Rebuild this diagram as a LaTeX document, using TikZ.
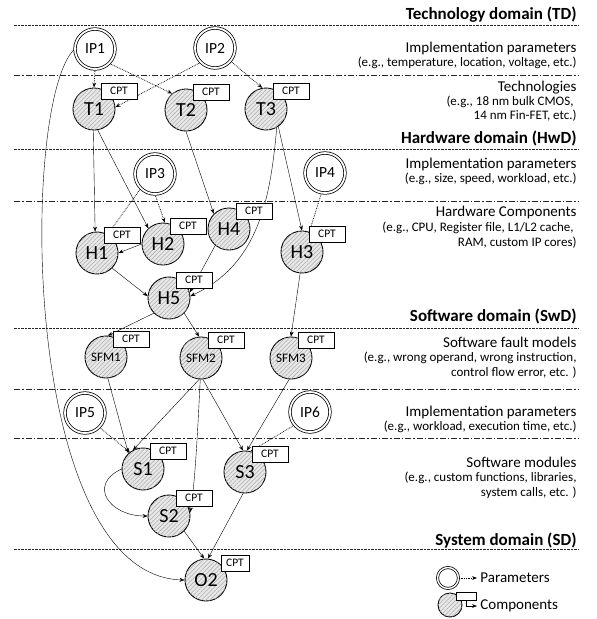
\documentclass[tikz,border=0pt]{standalone}
\usepackage{fontspec}
\setmainfont{Carlito}
\usetikzlibrary{arrows.meta,patterns.meta,backgrounds}

\newcommand{\fsz}[1]{\fontsize{#1}{#1}\selectfont}

\begin{document}
\begin{tikzpicture}[x=1pt, y=-1pt, line width=0.9pt,
  param/.style={draw, circle, double, double distance=1.8pt, line width=0.75pt, fill=white,
                minimum size=40pt, inner sep=0pt, font=\fsz{15.5}},
  comp/.style={draw, circle, line width=0.9pt, minimum size=42pt, inner sep=0pt, fill=gray!18,
               postaction={pattern={Lines[angle=45, distance=3pt, line width=0.55pt]}},
               pattern color=gray!65, font=\fsz{20}},
  sfm/.style={comp, font=\fsz{13}},
  cpt/.style={draw, fill=white, line width=0.9pt, minimum width=36pt, minimum height=16pt,
              inner sep=0pt, font=\fsz{11.5}},
  head/.style={anchor=base east, inner sep=0pt, font=\bfseries\fsz{17}},
  desc/.style={anchor=base east, inner sep=0pt, font=\fsz{15}},
  eg/.style={anchor=base east, inner sep=0pt, font=\fsz{13}},
  sep/.style={line width=0.8pt, black!85, dash pattern=on 2.5pt off 1pt},
  subsep/.style={line width=0.8pt, black!85, dash pattern=on 6pt off 2pt on 1.5pt off 2pt},
  arr/.style={-{Stealth[length=5pt, width=3.8pt]}},
  dotarr/.style={arr, line width=0.75pt, densely dotted}]
\useasboundingbox (0,0) rectangle (597,619);

\foreach \y/\t in {19/{Technology domain (TD)}, 143/{Hardware domain (HwD)},
                   321/{Software domain (SwD)}, 545/{System domain (SD)}}
  \node[head] (hd\y) at (577,\y) {\t};
\foreach \y/\t in {52/{Implementation parameters}, 91/{Technologies},
                   168/{Implementation parameters}, 216/{Hardware Components},
                   347/{Software fault models}, 416/{Implementation parameters},
                   467/{Software modules}}
  \node[desc] (ds\y) at (577,\y) {\t};
\foreach \y/\t in {66/{(e.g., temperature, location, voltage, etc.)},
                   105/{(e.g., 18 nm bulk CMOS,\kern3pt}, 119/{14 nm Fin-FET, etc.)},
                   182/{(e.g., size, speed, workload, etc.)},
                   231/{(e.g., CPU, Register file, L1/L2 cache,\kern3pt}, 246/{RAM, custom IP cores)},
                   361/{(e.g., wrong operand, wrong instruction,}, 376/{control flow error, etc. )},
                   430/{(e.g., workload, execution time, etc.)},
                   481/{(e.g., custom functions, libraries,}, 496/{system calls, etc. )}}
  \node[eg] (eg\y) at (577,\y) {\t};

\node[param] (IP1) at (95,49) {IP1};
\node[param] (IP2) at (215,48) {IP2};
\node[param] (IP3) at (155,174) {IP3};
\node[param] (IP4) at (325,173) {IP4};
\node[param] (IP5) at (85,413) {IP5};
\node[param] (IP6) at (310,412) {IP6};

\node[comp] (T1) at (94,109) {T1};
\node[comp] (T2) at (186,110) {T2};
\node[comp] (T3) at (266,109) {T3};
\node[comp] (H1) at (97,253) {H1};
\node[comp] (H2) at (163,244) {H2};
\node[comp] (H4) at (229,229) {H4};
\node[comp] (H3) at (302,252) {H3};
\node[comp] (H5) at (169,298) {H5};
\node[sfm] (SFM1) at (106,357) {SFM1};
\node[sfm] (SFM2) at (201,358) {SFM2};
\node[sfm] (SFM3) at (291,358) {SFM3};
\node[comp] (S1) at (143,469) {S1};
\node[comp] (S3) at (245,472) {S3};
\node[comp] (S2) at (169,516) {S2};
\node[comp] (O2) at (206,580) {O2};

\foreach \n in {T1,T2,T3,H1,H2,H3,H4,H5,SFM1,SFM2,SFM3,S1,S2,S3}
  \node[cpt] (\n-cpt) at (\n.center) [xshift=25pt, yshift=18pt] {CPT};
\node[cpt, minimum width=28pt] (O2-cpt) at (O2.center) [xshift=29pt, yshift=17pt] {CPT};

\begin{scope}[on background layer]
\foreach \y/\s in {25/sep, 75/subsep, 149/sep, 201/subsep, 328/sep, 389/subsep, 438/subsep, 549/sep}
  \draw[\s] (14,\y) -- (578,\y);

\draw[dotarr] (IP1.south) -- (T1.north);
\draw[dotarr] (IP1.-45) -- (T2.130);
\draw[dotarr] (IP2.-135) -- (T1.5);
\draw[dotarr] (IP2.-40) -- (T3.100);
\draw[arr] (T1.-92) -- (H1.95);
\draw[arr] (T1.-80) -- (H2.133);
\draw[arr] (T2.south) -- (H4.135);
\draw[arr] (T3.-55) -- (H3.north);
\draw[arr] (T3.-60) to[out=-95, in=25] (H5.5);
\draw[dotarr] (IP3.-135) -- (H1.60);
\draw[dotarr] (IP3.south) -- (H2.85);
\draw[dotarr] (IP4.-100) -- (H3.70);
\draw[arr] (H2.west) -- (H1.east);
\draw[arr] (H1.-45) -- (H5.175);
\draw[arr] (H4.-130) -- (H5.15);
\draw[arr] (H5.-135) -- (SFM1.85);
\draw[arr] (H5.-45) -- (SFM2.95);
\draw[arr] (H3.-95) -- (SFM3.north);
\draw[arr] (SFM1.-85) -- (S1.133);
\draw[dotarr] (IP5.-45) -- (S1.128);
\draw[arr] (SFM2.-95) -- (S1.118);
\draw[arr] (SFM2.-92) to[out=-93, in=80, looseness=0.6] (S2.10);
\draw[arr] (SFM2.-85) -- (S3.95);
\draw[arr] (SFM3.-95) -- (S3.85);
\draw[dotarr] (IP6.-140) -- (S3.75);
\draw[arr] (S1.west) to[out=205, in=180, looseness=1.8] (S2.west);
\draw[arr] (S2.-45) -- (O2.95);
\draw[arr] (S3.-95) -- (O2.85);
\draw[arr] (IP1.west) .. controls (20,100) and (20,575) .. (O2.west);
\end{scope}

% legend
\node[param, minimum size=21pt, double distance=1.4pt] (legpar) at (448,578) {};
\node[comp, minimum size=24pt] (legcomp) at (450,605) {};
\node[cpt, minimum width=20pt, minimum height=8pt] (legcpt) at (466,596) {};
\node[anchor=west, inner sep=3pt, font=\fsz{15}] (legpartxt) at (477,578) {Parameters};
\node[anchor=west, inner sep=3pt, font=\fsz{15}] (legcomptxt) at (477,606) {Components};
\draw[dotarr] (legpar) -- (legpartxt);
\draw[arr] (legcpt.south) |- (legcomptxt);
\end{tikzpicture}
\end{document}
